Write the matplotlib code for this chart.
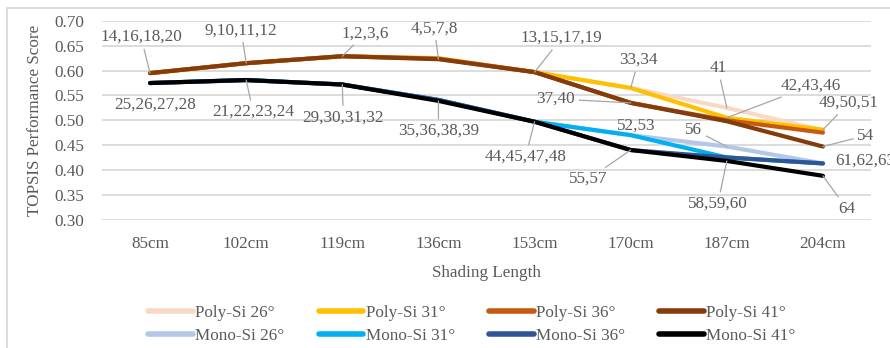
import matplotlib
matplotlib.use("Agg")
import matplotlib.pyplot as plt
from matplotlib.lines import Line2D

plt.rcParams['font.family'] = ['Liberation Serif', 'DejaVu Serif']

categories = ["85cm", "102cm", "119cm", "136cm", "153cm", "170cm", "187cm", "204cm"]

poly_26 = [0.595, 0.615, 0.629, 0.625, 0.597, 0.565, 0.525, 0.480]
poly_31 = [0.595, 0.615, 0.629, 0.625, 0.597, 0.565, 0.505, 0.481]
poly_36 = [0.595, 0.615, 0.629, 0.624, 0.597, 0.535, 0.500, 0.475]
poly_41 = [0.595, 0.615, 0.629, 0.623, 0.597, 0.535, 0.498, 0.447]
mono_26 = [0.575, 0.581, 0.572, 0.541, 0.497, 0.470, 0.447, 0.413]
mono_31 = [0.575, 0.581, 0.572, 0.541, 0.497, 0.470, 0.425, 0.413]
mono_36 = [0.575, 0.581, 0.572, 0.541, 0.497, 0.440, 0.425, 0.413]
mono_41 = [0.575, 0.581, 0.572, 0.539, 0.497, 0.440, 0.418, 0.388]

series_names = ["Poly-Si 26°", "Poly-Si 31°", "Poly-Si 36°", "Poly-Si 41°",
                "Mono-Si 26°", "Mono-Si 31°", "Mono-Si 36°", "Mono-Si 41°"]
series_values = [poly_26, poly_31, poly_36, poly_41, mono_26, mono_31, mono_36, mono_41]
series_colors = ["#F8D9C6", "#FFC000", "#C55A11", "#843C0C",
                 "#B4C7E7", "#00B0F0", "#2F5597", "#000000"]

# data labels: (text, series index, category index, offset px (dx, dy), draw leader)
labels = [
    ("14,16,18,20", 3, 0, (-9, 36), True),
    ("9,10,11,12", 3, 1, (-5, 33), True),
    ("1,2,3,6", 3, 2, (23, 23), True),
    ("4,5,7,8", 3, 3, (-4, 31), True),
    ("13,15,17,19", 3, 4, (27, 34), True),
    ("33,34", 1, 5, (8, 28), True),
    ("37,40", 3, 5, (-75, 4), True),
    ("41", 0, 6, (-9, 40), True),
    ("42,43,46", 1, 6, (84, 32), True),
    ("49,50,51", 1, 7, (26, 27), True),
    ("54", 3, 7, (43, 11), True),
    ("25,26,27,28", 7, 0, (5, -22), False),
    ("21,22,23,24", 7, 1, (7, -32), True),
    ("29,30,31,32", 7, 2, (1, -33), True),
    ("35,36,38,39", 7, 3, (0, -30), True),
    ("44,45,47,48", 7, 4, (-9, -35), True),
    ("52,53", 5, 5, (6, 9), False),
    ("55,57", 7, 5, (-42, -29), True),
    ("56", 4, 6, (-33, 17), True),
    ("58,59,60", 7, 6, (-9, -43), True),
    ("64", 7, 7, (24, -33), True),
]

W, H = 890, 348
fig = plt.figure(figsize=(W / 100, H / 100), dpi=100)
ax = fig.add_axes([102 / W, 1 - 219.5 / H, (871 - 102) / W, (219.5 - 21) / H])

text_color = "#595959"
grid_color = "#D9D9D9"
fs = 12.3

x = list(range(len(categories)))
for name, vals, col in zip(series_names, series_values, series_colors):
    ax.plot(x, vals, color=col, lw=3.0, solid_capstyle='round',
            solid_joinstyle='round', label=name)

ax.set_xlim(-0.5, len(categories) - 0.5)
ax.set_ylim(0.30, 0.70)
yt = [0.30 + 0.05 * i for i in range(9)]
ax.set_yticks(yt)
ax.set_yticklabels([f"{v:.2f}" for v in yt])
ax.set_xticks(x)
ax.set_xticklabels(categories)
ax.yaxis.grid(True, color=grid_color, lw=1.3)
ax.set_axisbelow(True)
for s in ax.spines.values():
    s.set_visible(False)
ax.tick_params(axis='both', length=0, labelsize=fs, colors=text_color)
ax.tick_params(axis='y', pad=13)
ax.tick_params(axis='x', pad=12)
ax.set_xlabel("Shading Length", fontsize=fs, color=text_color, labelpad=9)
ax.set_ylabel("TOPSIS Performance Score", fontsize=fs, color=text_color, labelpad=8)

for txt, si, ci, (dx, dy), leader in labels:
    yv = series_values[si][ci]
    ap = dict(arrowstyle='-', color="#A6A6A6", lw=0.9, shrinkA=1, shrinkB=0) if leader else None
    ax.annotate(txt, xy=(ci, yv), xytext=(dx, dy), textcoords='offset pixels',
                ha='center', va='center', fontsize=fs, color=text_color,
                arrowprops=ap, annotation_clip=False, zorder=5)

# right-edge label (runs to the figure edge as in the reference)
ax.annotate("61,62,63", xy=(7, mono_36[7]), xytext=(12, 3), textcoords='offset pixels',
            ha='left', va='center', fontsize=fs, color=text_color, annotation_clip=False)

# legend: row 1 Poly, row 2 Mono
order = [0, 4, 1, 5, 2, 6, 3, 7]
leg_handles = [Line2D([0], [0], color=series_colors[i], lw=4, solid_capstyle='round')
               for i in order]
leg_labels = [series_names[i] for i in order]
fig.legend(leg_handles, leg_labels, ncol=4, loc='center', bbox_to_anchor=(472 / W, 1 - 324.5 / H),
           frameon=False, fontsize=fs, handlelength=2.6, handletextpad=0.15,
           columnspacing=2.0, labelspacing=0.38, labelcolor=text_color)

# chart border (top and left visible)
fig.add_artist(Line2D([7 / W, 7 / W], [0, 1 - 8 / H], transform=fig.transFigure,
                      color="#D9D9D9", lw=1.3))
fig.add_artist(Line2D([7 / W, 1], [1 - 8 / H, 1 - 8 / H], transform=fig.transFigure,
                      color="#D9D9D9", lw=1.3))

fig.savefig("out.png", dpi=100)
